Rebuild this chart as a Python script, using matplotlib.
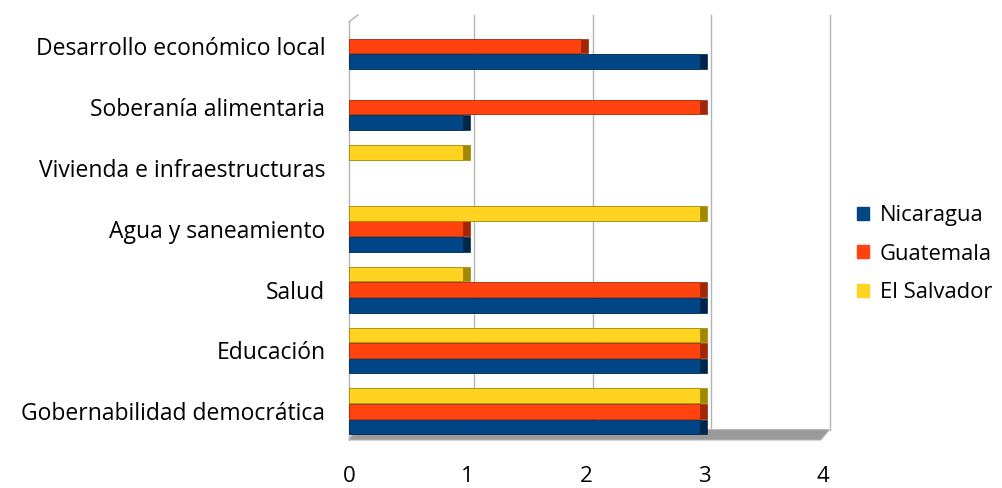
import matplotlib
matplotlib.use("Agg")
import matplotlib.pyplot as plt
import matplotlib.transforms as mtransforms
from matplotlib.patches import Polygon, Patch
import numpy as np

categories = ["Gobernabilidad democrática", "Educación", "Salud", "Agua y saneamiento",
              "Vivienda e infraestructuras", "Soberanía alimentaria", "Desarrollo económico local"]
series_names = ["Nicaragua", "Guatemala", "El Salvador"]
nicaragua = [3, 3, 3, 1, 0, 1, 3]
guatemala = [3, 3, 3, 1, 0, 3, 2]
el_salvador = [3, 3, 1, 3, 1, 0, 0]
colors = ["#004586", "#FF420E", "#FFD320"]
dark_colors = ["#00264a", "#a02808", "#a08800"]
xticks = [0, 1, 2, 3, 4]

plt.rcParams['font.family'] = ['Open Sans', 'DejaVu Sans']

W, H = 1002, 488
fig = plt.figure(figsize=(W / 100, H / 100), dpi=100)
x0, x1 = 349, 823
ytop, ybot = 15, 440
ax = fig.add_axes([x0 / W, (H - ybot) / H, (x1 - x0) / W, (ybot - ytop) / H])
ax.set_xlim(0, 4)
ax.set_ylim(-0.47, 6.51)

# back wall grid lines (shifted by 3D depth)
depth = 0.055
for t in xticks[1:]:
    ax.plot([t + depth, t + depth], [-0.3, 6.51], color="#b3b3b3", lw=1, zorder=0, clip_on=False)
# left wall
ax.plot([0, 0], [-0.47, 6.4], color="#b3b3b3", lw=1, zorder=0, clip_on=False)
ax.plot([0, depth + 0.02], [6.4, 6.51], color="#b3b3b3", lw=1, zorder=0, clip_on=False)
# floor
floor = Polygon([[0, -0.47], [4 - 0.02, -0.47], [4 + depth, -0.3], [depth, -0.3]],
                closed=True, facecolor="#9a9a9a", edgecolor="#b3b3b3", lw=0.8, zorder=1, clip_on=False)
ax.add_patch(floor)

y = np.arange(len(categories))
h = 0.255
series = [nicaragua, guatemala, el_salvador]
offsets = [-h, 0, h]
for s, vals in enumerate(series):
    for i, v in enumerate(vals):
        if v <= 0:
            continue
        yc = y[i] + offsets[s]
        # end cap (3D side)
        ax.barh(yc, 0.06, left=v - 0.04, height=h * 0.95, color=dark_colors[s],
                edgecolor=dark_colors[s], lw=0.5, zorder=3 + s * 0.1)
        ax.barh(yc, v - 0.04, left=0.0, height=h * 0.95, color=colors[s],
                edgecolor=dark_colors[s], lw=0.6, zorder=3 + s * 0.1 + 0.01)

ax.set_yticks(y)
ax.set_yticklabels(categories, fontsize=16.5)
yshift = mtransforms.ScaledTranslation(0, -4 / 100, fig.dpi_scale_trans)
for lab in ax.get_yticklabels():
    lab.set_transform(lab.get_transform() + yshift)
ax.set_xticks(xticks)
ax.set_xticklabels([str(t) for t in xticks], fontsize=16)
shift = mtransforms.ScaledTranslation(-4 / 100, 0, fig.dpi_scale_trans)
for lab in ax.get_xticklabels():
    lab.set_transform(lab.get_transform() + shift)
ax.tick_params(axis="x", length=0, pad=19)
ax.tick_params(axis="y", length=0, pad=17)
for sp in ax.spines.values():
    sp.set_visible(False)

handles = [Patch(facecolor=c, edgecolor=c) for c in colors]
fig.legend(handles, series_names, loc="center left", bbox_to_anchor=(857 / W, 1 - 254 / H),
           frameon=False, fontsize=15.8, handlelength=0.55, handleheight=0.55, borderpad=0,
           borderaxespad=0, handletextpad=0.5, labelspacing=0.8)

fig.savefig("out.png", dpi=100)
